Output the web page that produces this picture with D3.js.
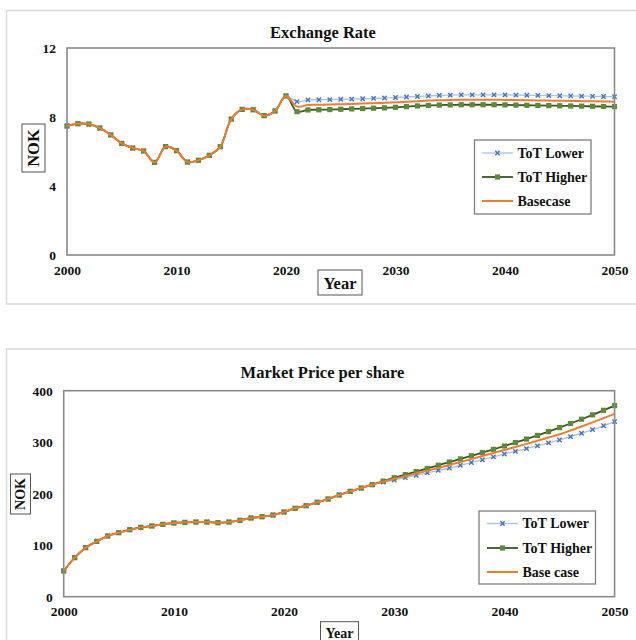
<!DOCTYPE html>
<html>
<head>
<meta charset="utf-8">
<script src="https://cdn.jsdelivr.net/npm/d3@7"></script>
<style>
  html, body { margin: 0; padding: 0; background: #fff; }
  svg { display: block; }
  text { font-family: "Liberation Serif", "Times New Roman", serif; font-weight: bold; fill: #111; }
</style>
</head>
<body>
<svg id="chart" width="636" height="640"></svg>
<script>
// Years on the horizontal axis
const years = d3.range(2000, 2051);
const xTicks = [2000, 2010, 2020, 2030, 2040, 2050];

// Exchange rate (NOK), shared history 2000-2020
const fxHistory = [7.48, 7.61, 7.59, 7.36, 6.96, 6.47, 6.2, 6.03, 5.37, 6.28, 6.05,
                   5.39, 5.49, 5.78, 6.28, 7.88, 8.44, 8.42, 8.08, 8.35, 9.22];
// Exchange rate projections 2021-2050
const fxLower  = [8.89, 8.99, 9.0, 9.01, 9.03, 9.04, 9.06, 9.08, 9.1, 9.13,
                  9.16, 9.19, 9.22, 9.25, 9.27, 9.28, 9.28, 9.28, 9.28, 9.28,
                  9.27, 9.26, 9.25, 9.24, 9.23, 9.22, 9.21, 9.2, 9.19, 9.18];
const fxHigher = [8.31, 8.41, 8.42, 8.43, 8.45, 8.47, 8.49, 8.51, 8.53, 8.56,
                  8.6, 8.64, 8.67, 8.69, 8.7, 8.71, 8.71, 8.71, 8.71, 8.7,
                  8.69, 8.68, 8.67, 8.66, 8.65, 8.64, 8.63, 8.62, 8.61, 8.6];
const fxBase   = [8.6, 8.7, 8.71, 8.72, 8.74, 8.76, 8.78, 8.8, 8.82, 8.85,
                  8.88, 8.92, 8.95, 8.97, 8.99, 9.0, 9.0, 9.0, 9.0, 8.99,
                  8.98, 8.97, 8.96, 8.95, 8.94, 8.93, 8.92, 8.91, 8.9, 8.89];
const fxTicks = [0, 4, 8, 12];

// Market price per share (NOK), shared path 2000-2028
const mpHistory = [50, 75.8, 95.2, 107.5, 117.9, 124.3, 130.1, 134.6, 137.3, 140.5,
                   143.1, 144.4, 145, 145, 143.7, 145, 148.3, 152.8, 155.3, 158.6,
                   164.5, 171.6, 176.7, 183.3, 189.7, 197.5, 204.6, 211, 217.5];
// Market price projections 2029-2050
const mpLower  = [222.5, 226.6, 231.2, 235.9, 240.6, 245.2, 249.9, 255.2, 260.6, 266,
                  271.5, 277.1, 282.3, 287.6, 293, 298.6, 304.3, 310.7, 317.4, 324.3,
                  331.9, 339.9];
const mpHigher = [224.5, 231, 237, 243, 249, 255.2, 261.5, 267.5, 273.6, 279.8,
                  286.1, 292.6, 299.3, 306.1, 313.2, 320.6, 328.3, 336.3, 344.6, 353.1,
                  361.9, 371];
const mpBase   = [223.5, 229, 234, 239.3, 244.6, 250.1, 255.7, 261.4, 267.2, 273.1,
                  279, 284.9, 290.8, 296.8, 302.8, 309, 315.3, 322.8, 330.6, 338.5,
                  346.7, 355];
const mpTicks = [0, 100, 200, 300, 400];

const COLORS = {
  lowerLine: "#a7c2ea",
  lowerMark: "#4472c4",
  higherLine: "#385723",
  higherMark: "#5a8a3a",
  base: "#ed7d31",
  plotBorder: "#8a8a8a",
  frame: "#d9d9d9"
};

const svg = d3.select("#chart");

function drawPanel(cfg) {
  const g = svg.append("g");

  // outer chart frame
  g.append("rect")
    .attr("x", cfg.frame.x).attr("y", cfg.frame.y)
    .attr("width", cfg.frame.w).attr("height", cfg.frame.h)
    .attr("fill", "#fff").attr("stroke", COLORS.frame).attr("stroke-width", 1.5);

  const x = d3.scaleLinear().domain([2000, 2050]).range([cfg.plot.left, cfg.plot.right]);
  const y = d3.scaleLinear().domain(cfg.yDomain).range([cfg.plot.bottom, cfg.plot.top]);

  // title
  g.append("text")
    .attr("x", cfg.titleX).attr("y", cfg.titleY)
    .attr("text-anchor", "middle")
    .style("font-size", "16.5px")
    .text(cfg.title);

  // axes (labels only, no tick marks)
  const xAxis = g.append("g")
    .attr("transform", `translate(0,${cfg.plot.bottom})`)
    .call(d3.axisBottom(x).tickValues(xTicks).tickFormat(d3.format("d")).tickSize(0).tickPadding(cfg.xTickPad));
  xAxis.select(".domain").remove();
  xAxis.selectAll("text")
    .style("font-family", '"Liberation Serif", serif')
    .style("font-weight", "bold")
    .style("font-size", "13.5px")
    .attr("fill", "#111");

  const yAxis = g.append("g")
    .attr("transform", `translate(${cfg.plot.left},0)`)
    .call(d3.axisLeft(y).tickValues(cfg.yTicks).tickSize(0).tickPadding(cfg.yTickPad));
  yAxis.select(".domain").remove();
  yAxis.selectAll("text")
    .style("font-family", '"Liberation Serif", serif')
    .style("font-weight", "bold")
    .style("font-size", "13.5px")
    .attr("fill", "#111");

  // series lines
  const line = d3.line()
    .x((d, i) => x(years[i]))
    .y(d => y(d))
    .curve(d3.curveCatmullRom.alpha(0.5));

  // ToT Lower: thin light blue line with x markers
  g.append("path")
    .attr("d", line(cfg.lower))
    .attr("fill", "none").attr("stroke", COLORS.lowerLine).attr("stroke-width", 1.3);
  const cross = d3.symbol().type(d3.symbolX).size(14);
  g.append("g").selectAll("path")
    .data(cfg.lower)
    .join("path")
    .attr("transform", (d, i) => `translate(${x(years[i])},${y(d)})`)
    .attr("d", cross())
    .attr("fill", "none").attr("stroke", COLORS.lowerMark).attr("stroke-width", 1.4);

  // ToT Higher: dark green line with square markers
  g.append("path")
    .attr("d", line(cfg.higher))
    .attr("fill", "none").attr("stroke", COLORS.higherLine).attr("stroke-width", 1.8);
  g.append("g").selectAll("rect")
    .data(cfg.higher)
    .join("rect")
    .attr("x", (d, i) => x(years[i]) - 2.6)
    .attr("y", d => y(d) - 2.6)
    .attr("width", 5.2).attr("height", 5.2)
    .attr("fill", COLORS.higherMark);

  // Base case: orange line on top
  g.append("path")
    .attr("d", line(cfg.base))
    .attr("fill", "none").attr("stroke", COLORS.base).attr("stroke-width", 2);

  // plot area border
  g.append("rect")
    .attr("x", cfg.plot.left).attr("y", cfg.plot.top)
    .attr("width", cfg.plot.right - cfg.plot.left)
    .attr("height", cfg.plot.bottom - cfg.plot.top)
    .attr("fill", "none").attr("stroke", COLORS.plotBorder).attr("stroke-width", 1.6);

  // boxed y-axis title
  const yt = cfg.yTitle;
  g.append("rect")
    .attr("x", yt.x).attr("y", yt.y).attr("width", yt.w).attr("height", yt.h)
    .attr("fill", "#fff").attr("stroke", "#555").attr("stroke-width", 1);
  g.append("text")
    .attr("transform", `translate(${yt.x + yt.w / 2},${yt.y + yt.h / 2}) rotate(-90)`)
    .attr("text-anchor", "middle").attr("dominant-baseline", "central")
    .style("font-size", yt.size + "px")
    .text("NOK");

  // boxed x-axis title
  const xt = cfg.xTitle;
  g.append("rect")
    .attr("x", xt.x).attr("y", xt.y).attr("width", xt.w).attr("height", xt.h)
    .attr("fill", "#fff").attr("stroke", "#555").attr("stroke-width", 1);
  g.append("text")
    .attr("x", xt.x + xt.w / 2).attr("y", xt.textY)
    .attr("text-anchor", "middle").attr("dominant-baseline", "central")
    .style("font-size", xt.size + "px")
    .text("Year");

  // legend
  const lg = cfg.legend;
  g.append("rect")
    .attr("x", lg.x).attr("y", lg.y).attr("width", lg.w).attr("height", lg.h)
    .attr("fill", "#fff").attr("stroke", "#7f7f7f").attr("stroke-width", 1.3);
  const entries = [
    { label: "ToT Lower", kind: "lower" },
    { label: "ToT Higher", kind: "higher" },
    { label: cfg.baseLabel, kind: "base" }
  ];
  entries.forEach((e, i) => {
    const cy = lg.rows[i];
    const mid = (lg.lineX0 + lg.lineX1) / 2;
    if (e.kind === "lower") {
      g.append("line").attr("x1", lg.lineX0).attr("x2", lg.lineX1).attr("y1", cy).attr("y2", cy)
        .attr("stroke", COLORS.lowerLine).attr("stroke-width", 1.3);
      g.append("path").attr("transform", `translate(${mid},${cy})`).attr("d", cross())
        .attr("fill", "none").attr("stroke", COLORS.lowerMark).attr("stroke-width", 1.4);
    } else if (e.kind === "higher") {
      g.append("line").attr("x1", lg.lineX0).attr("x2", lg.lineX1).attr("y1", cy).attr("y2", cy)
        .attr("stroke", COLORS.higherLine).attr("stroke-width", 1.8);
      g.append("rect").attr("x", mid - 2.6).attr("y", cy - 2.6).attr("width", 5.2).attr("height", 5.2)
        .attr("fill", COLORS.higherMark);
    } else {
      g.append("line").attr("x1", lg.lineX0).attr("x2", lg.lineX1).attr("y1", cy).attr("y2", cy)
        .attr("stroke", COLORS.base).attr("stroke-width", 2);
    }
    g.append("text")
      .attr("x", lg.textX).attr("y", cy)
      .attr("dominant-baseline", "central")
      .style("font-size", "14px")
      .text(e.label);
  });
}

// Panel 1: Exchange Rate
drawPanel({
  frame: { x: 6.5, y: 10.5, w: 640, h: 293.5 },
  plot: { left: 67, right: 614.5, top: 48, bottom: 255 },
  yDomain: [0, 12],
  yTicks: fxTicks,
  xTickPad: 10,
  yTickPad: 11,
  title: "Exchange Rate",
  titleX: 323, titleY: 38,
  lower: fxHistory.concat(fxLower),
  higher: fxHistory.concat(fxHigher),
  base: fxHistory.concat(fxBase),
  baseLabel: "Basecase",
  yTitle: { x: 22, y: 124, w: 23, h: 48, size: 16.5 },
  xTitle: { x: 318, y: 270, w: 44, h: 25, textY: 283, size: 16.5 },
  legend: { x: 474.5, y: 140, w: 116.5, h: 74, rows: [153, 177, 201], lineX0: 482, lineX1: 513, textX: 517.5 }
});

// Panel 2: Market Price per share
drawPanel({
  frame: { x: 6.5, y: 349, w: 640, h: 320 },
  plot: { left: 63.7, right: 614.6, top: 390.7, bottom: 596.7 },
  yDomain: [0, 400],
  yTicks: mpTicks,
  xTickPad: 10,
  yTickPad: 11,
  title: "Market Price per share",
  titleX: 322.5, titleY: 378,
  lower: mpHistory.concat(mpLower),
  higher: mpHistory.concat(mpHigher),
  base: mpHistory.concat(mpBase),
  baseLabel: "Base case",
  yTitle: { x: 10.5, y: 474, w: 20, h: 40, size: 14 },
  xTitle: { x: 320.5, y: 621.7, w: 38, h: 30, textY: 633, size: 14 },
  legend: { x: 479, y: 511, w: 116.5, h: 73, rows: [523.5, 548, 572], lineX0: 487, lineX1: 518, textX: 522.5 }
});
</script>
</body>
</html>
